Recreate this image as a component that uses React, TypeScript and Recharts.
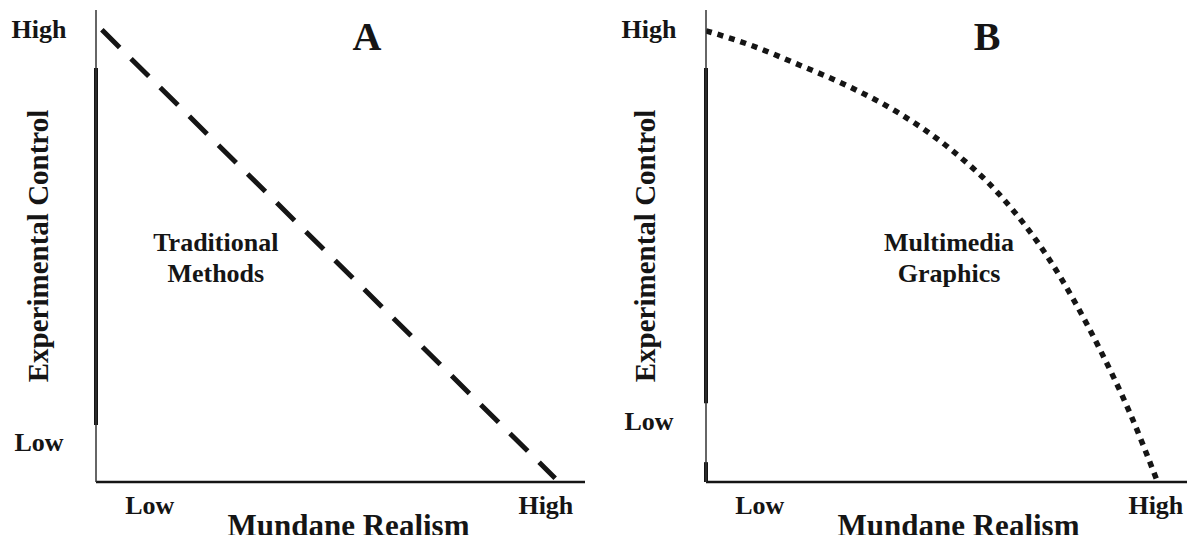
import { LineChart, Line, XAxis, YAxis, ReferenceLine, ReferenceDot } from "recharts";

// tick positions on a 0..100 scale for both axes
const realismTicks = [11, 92];
const realismTickLabels = ["Low", "High"];
const controlTicksA = [96, 8.5];
const controlTicksB = [96, 13];
const controlTickLabels = ["High", "Low"];

// panel A: traditional methods (straight trade-off)
const traditionalRealism = [1.2, 93.9];
const traditionalControl = [95.8, 0.8];

// panel B: multimedia graphics (bowed frontier)
const multimediaRealism = [0, 9, 19.2, 29.4, 39.7, 49.9, 60.1, 70.3, 80.6, 86.7, 92.2];
const multimediaControl = [95.6, 92.6, 88.3, 83.7, 78.0, 70.6, 60.8, 47.0, 28.0, 14.6, 0.4];

// heavy stretches of the control axis
const spineA = [[12.1, 87.7]];
const spineB = [[16.7, 87.7], [0, 4.2]];

const FONT = "'Liberation Serif', 'Times New Roman', serif";
const INK = "#151515";

const toRows = (xs: number[], ys: number[]) => xs.map((x, i) => ({ realism: x, control: ys[i] }));

function XTick({ x, y, payload }: any) {
  const label = realismTickLabels[realismTicks.indexOf(payload.value)];
  return (
    <text x={x} y={y + 32} textAnchor="middle" fontFamily={FONT} fontWeight="bold" fontSize={26} fill={INK}>
      {label}
    </text>
  );
}

function makeYTick(ticks: number[]) {
  return ({ x, y, payload }: any) => (
    <text x={x - 57} y={y + 9} textAnchor="middle" fontFamily={FONT} fontWeight="bold" fontSize={26} fill={INK}>
      {controlTickLabels[ticks.indexOf(payload.value)]}
    </text>
  );
}

function XTitle({ viewBox }: any) {
  return (
    <text x={viewBox.x + viewBox.width / 2 + 8} y={viewBox.y + 54} textAnchor="middle" fontFamily={FONT} fontWeight="bold" fontSize={31} fill={INK}>
      Mundane Realism
    </text>
  );
}

function makeYTitle(shift: number) {
  return ({ viewBox }: any) => {
    const cx = viewBox.x + viewBox.width - shift;
    const cy = viewBox.y + viewBox.height / 2;
    return (
      <text x={cx} y={cy + 10} transform={`rotate(-90, ${cx}, ${cy})`} textAnchor="middle" fontFamily={FONT} fontWeight="bold" fontSize={29} fill={INK}>
        Experimental Control
      </text>
    );
  };
}

function makeNote(lines: string[], size: number, gap: number) {
  return ({ viewBox }: any) => {
    const cx = viewBox.x + viewBox.width / 2;
    const cy = viewBox.y + viewBox.height / 2;
    const top = cy - ((lines.length - 1) * gap) / 2 + size * 0.33;
    return (
      <text textAnchor="middle" fontFamily={FONT} fontWeight="bold" fontSize={size} fill={INK}>
        {lines.map((l, i) => (
          <tspan key={l} x={cx} y={top + i * gap}>
            {l}
          </tspan>
        ))}
      </text>
    );
  };
}

type PanelProps = {
  width: number;
  margin: { top: number; right: number; bottom: number; left: number };
  rows: { realism: number; control: number }[];
  controlTicks: number[];
  spine: number[][];
  curve: "linear" | "monotone";
  dash: string;
  title: string;
  titleX: number;
  note: string[];
  noteX: number;
  yShift: number;
};

function Panel({ width, margin, rows, controlTicks, spine, curve, dash, title, titleX, note, noteX, yShift }: PanelProps) {
  return (
    <LineChart width={width} height={543} data={rows} margin={margin}>
      <XAxis
        type="number"
        dataKey="realism"
        domain={[0, 100]}
        ticks={realismTicks}
        allowDataOverflow
        height={61}
        axisLine={{ stroke: INK, strokeWidth: 2.5 }}
        tickLine={false}
        tickSize={0}
        tickMargin={0}
        tick={XTick}
        label={{ content: XTitle }}
      />
      <YAxis
        type="number"
        dataKey="control"
        domain={[0, 100]}
        ticks={controlTicks}
        allowDataOverflow
        width={86}
        axisLine={{ stroke: "#333", strokeWidth: 1.5 }}
        tickLine={false}
        tickSize={0}
        tickMargin={0}
        tick={makeYTick(controlTicks)}
        label={{ content: makeYTitle(yShift) }}
      />
      {spine.map(([a, b]) => (
        <ReferenceLine
          key={`${a}-${b}`}
          segment={[{ x: 0, y: a }, { x: 0, y: b }]}
          stroke={INK}
          strokeWidth={4}
          ifOverflow="visible"
        />
      ))}
      <ReferenceDot
        x={titleX}
        y={94.3}
        r={1}
        fill="none"
        stroke="none"
        label={{ content: makeNote([title], 40, 0) }}
      />
      <ReferenceDot
        x={noteX}
        y={47.5}
        r={1}
        fill="none"
        stroke="none"
        label={{ content: makeNote(note, 26, 31) }}
      />
      <Line
        type={curve}
        dataKey="control"
        stroke={INK}
        strokeWidth={curve === "linear" ? 5 : 5.5}
        strokeDasharray={dash}
        dot={false}
        activeDot={false}
        isAnimationActive={false}
      />
    </LineChart>
  );
}

export default function App() {
  return (
    <div style={{ position: "relative", width: 1195, height: 543, margin: -8, background: "#fff", overflow: "hidden" }}>
      <div style={{ position: "absolute", left: 0, top: 0 }}>
        <Panel
          width={600}
          margin={{ top: 10, right: 15, bottom: 0, left: 10 }}
          rows={toRows(traditionalRealism, traditionalControl)}
          controlTicks={controlTicksA}
          spine={spineA}
          curve="linear"
          dash="25 16"
          title="A"
          titleX={55.4}
          note={["Traditional", "Methods"]}
          noteX={24.5}
          yShift={58}
        />
      </div>
      <div style={{ position: "absolute", left: 600, top: 0 }}>
        <Panel
          width={595}
          margin={{ top: 10, right: 0, bottom: 0, left: 20 }}
          rows={toRows(multimediaRealism, multimediaControl)}
          controlTicks={controlTicksB}
          spine={spineB}
          curve="monotone"
          dash="6 6"
          title="B"
          titleX={57.5}
          note={["Multimedia", "Graphics"]}
          noteX={49.7}
          yShift={61}
        />
      </div>
    </div>
  );
}
